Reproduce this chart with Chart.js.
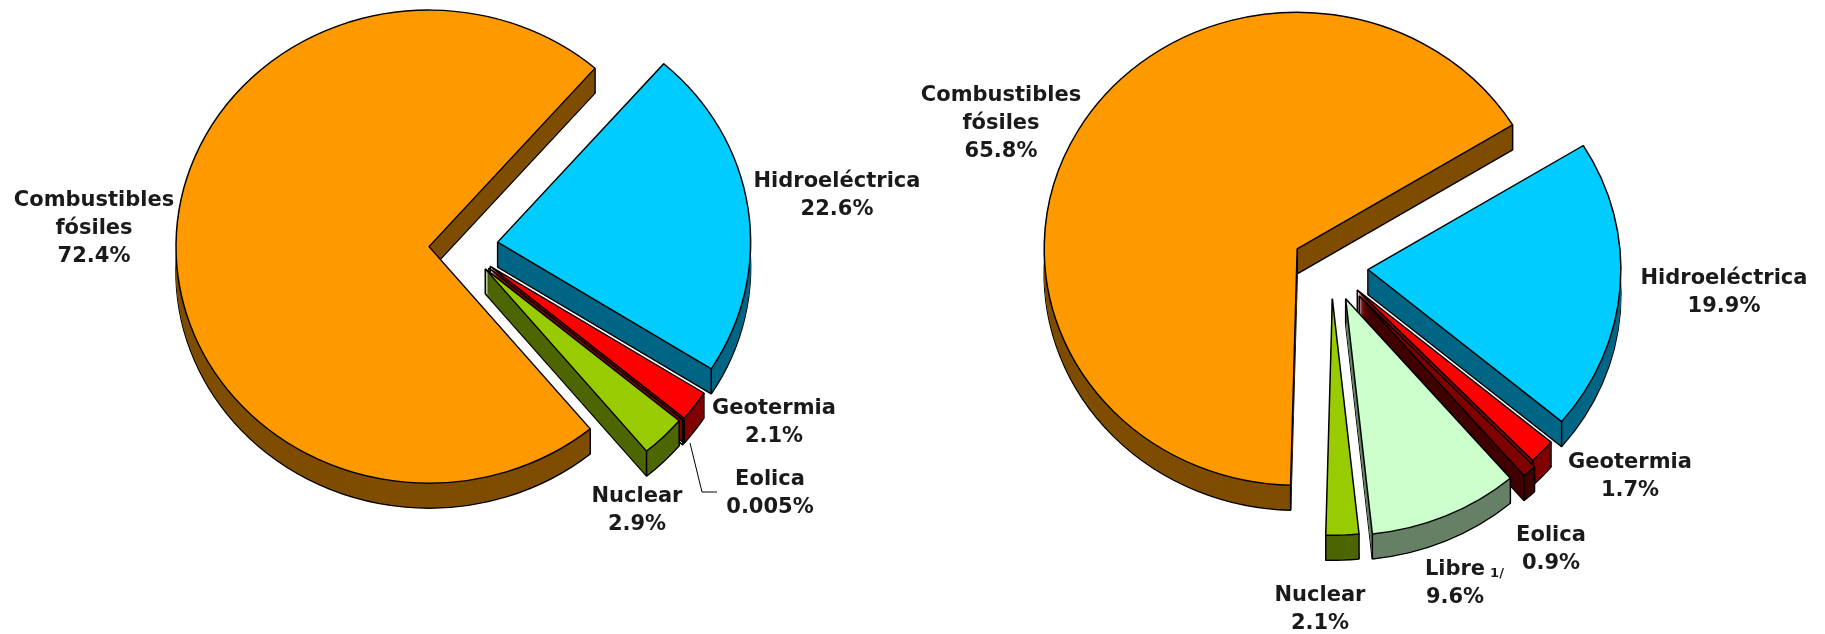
<!DOCTYPE html>
<html lang="es">
<head>
<meta charset="utf-8">
<title>Generación eléctrica</title>
<script src="https://cdn.jsdelivr.net/npm/chart.js@4"></script>
<style>
  html, body { margin: 0; padding: 0; background: #fff; width: 1825px; height: 634px; overflow: hidden; }
  canvas { position: absolute; top: 0; }
  #pastelIzq { left: 0; }
  #pastelDer { left: 837px; }
</style>
</head>
<body>
<canvas id="pastelIzq" width="924" height="634"></canvas>
<canvas id="pastelDer" width="988" height="634"></canvas>
<script>
const categoriasIzq = ['Combustibles fósiles', 'Hidroeléctrica', 'Geotermia', 'Eolica', 'Nuclear'];
const valoresIzq = [72.4, 22.6, 2.1, 0.005, 2.9];

const categoriasDer = ['Combustibles fósiles', 'Hidroeléctrica', 'Geotermia', 'Eolica', 'Libre', 'Nuclear'];
const valoresDer = [65.8, 19.9, 1.7, 0.9, 9.6, 2.1];

const colores = {
    'Combustibles fósiles': ['#FF9900', '#7F4D00'],
    'Hidroeléctrica': ['#00CCFF', '#006685'],
    'Geotermia': ['#FF0000', '#800000'],
    'Eolica': ['#800000', '#400000'],
    'Libre': ['#CCFFCC', '#668066'],
    'Nuclear': ['#99CC00', '#4D6600']
};

const RADIO = 253;
const APLASTADO = 0.935;
const GROSOR = 25;
const FUENTE = 'bold 21px "DejaVu Sans", Verdana, sans-serif';
const INTERLINEA = 28;

// posicion de cada rotulo (centro x, linea base y) en pixeles del canvas
const rotulosIzq = [
    { x: 94, y: 206, lineas: ['Combustibles', 'fósiles'] },
    { x: 837, y: 187, lineas: ['Hidroeléctrica'] },
    { x: 774, y: 414, lineas: ['Geotermia'] },
    { x: 770, y: 485, lineas: ['Eolica'], guia: [[690, 443], [702, 492], [717, 492]] },
    { x: 637, y: 502, lineas: ['Nuclear'] }
];
const rotulosDer = [
    { x: 164, y: 101, lineas: ['Combustibles', 'fósiles'] },
    { x: 887, y: 284, lineas: ['Hidroeléctrica'] },
    { x: 793, y: 468, lineas: ['Geotermia'] },
    { x: 714, y: 541, lineas: ['Eolica'] },
    { x: 618, y: 575, lineas: ['Libre'], sub: '1/' },
    { x: 483, y: 601, lineas: ['Nuclear'] }
];

// dibuja cada arco del pastel con su pared inferior, separado del centro
const pastel3d = {
    id: 'pastel3d',
    beforeDatasetsDraw(chart) {
        const ctx = chart.ctx;
        const ds = chart.data.datasets[0];
        const arcos = chart.getDatasetMeta(0).data;

        arcos.forEach((arco, i) => {
            const { x, y, startAngle, endAngle, outerRadius } = arco;
            const medio = (startAngle + endAngle) / 2;
            const dx = Math.cos(medio) * ds.explosion[i];
            const dy = Math.sin(medio) * ds.explosion[i] * APLASTADO;
            const original = arco.options;

            const pintar = (bajada, fondo, borde) => {
                arco.options = Object.assign({}, original, { backgroundColor: fondo, borderWidth: borde });
                ctx.save();
                ctx.translate(x + dx, y + dy + bajada);
                ctx.scale(1, APLASTADO);
                ctx.translate(-x, -y);
                arco.draw(ctx);
                ctx.restore();
            };

            for (let k = GROSOR; k > 0; k--) {
                pintar(k, ds.colorPared[i], k === GROSOR ? 1.5 : 0);
            }

            // aristas verticales
            const puntos = [[0, 0], [Math.cos(startAngle), Math.sin(startAngle)], [Math.cos(endAngle), Math.sin(endAngle)]];
            ctx.save();
            ctx.strokeStyle = '#000';
            ctx.lineWidth = 1.5;
            puntos.forEach(p => {
                const px = x + dx + p[0] * outerRadius;
                const py = y + dy + p[1] * outerRadius * APLASTADO;
                ctx.beginPath();
                ctx.moveTo(px, py);
                ctx.lineTo(px, py + GROSOR);
                ctx.stroke();
            });
            ctx.restore();

            pintar(0, original.backgroundColor, 1.5);
            arco.options = original;
        });
        return false;
    },
    afterDraw(chart) {
        const ctx = chart.ctx;
        const ds = chart.data.datasets[0];
        ctx.save();
        ctx.font = FUENTE;
        ctx.fillStyle = '#1a1a1a';
        ctx.textAlign = 'center';
        ds.rotulos.forEach((r, i) => {
            const lineas = r.lineas.concat([ds.data[i] + '%']);
            lineas.forEach((txt, n) => {
                ctx.fillText(txt, r.x, r.y + n * INTERLINEA);
                if (n === 0 && r.sub) {
                    ctx.font = 'bold 13px "DejaVu Sans", Verdana, sans-serif';
                    ctx.fillText(r.sub, r.x + 42, r.y + 2);
                    ctx.font = FUENTE;
                }
            });
            if (r.guia) {
                ctx.beginPath();
                r.guia.forEach((p, n) => n ? ctx.lineTo(p[0], p[1]) : ctx.moveTo(p[0], p[1]));
                ctx.strokeStyle = '#000';
                ctx.lineWidth = 1;
                ctx.stroke();
            }
        });
        ctx.restore();
    }
};

function crearPastel(id, categorias, valores, giro, explosion, rotulos, margenAbajo) {
    new Chart(document.getElementById(id).getContext('2d'), {
        type: 'pie',
        plugins: [pastel3d],
        data: {
            labels: categorias,
            datasets: [{
                data: valores,
                backgroundColor: categorias.map(c => colores[c][0]),
                colorPared: categorias.map(c => colores[c][1]),
                borderColor: '#000',
                borderWidth: 1.5,
                explosion: explosion,
                rotulos: rotulos
            }]
        },
        options: {
            responsive: false,
            animation: false,
            radius: RADIO,
            rotation: giro,
            layout: { padding: { bottom: margenAbajo } },
            plugins: { legend: { display: false }, tooltip: { enabled: false } }
        }
    });
}

crearPastel('pastelIzq', categoriasIzq, valoresIzq, 140.4, [33, 36, 35, 35, 33], rotulosIzq, 140);
crearPastel('pastelDer', categoriasDer, valoresDer, 181.5, [39, 37, 36, 42, 37, 34], rotulosDer, 100);
</script>
</body>
</html>
